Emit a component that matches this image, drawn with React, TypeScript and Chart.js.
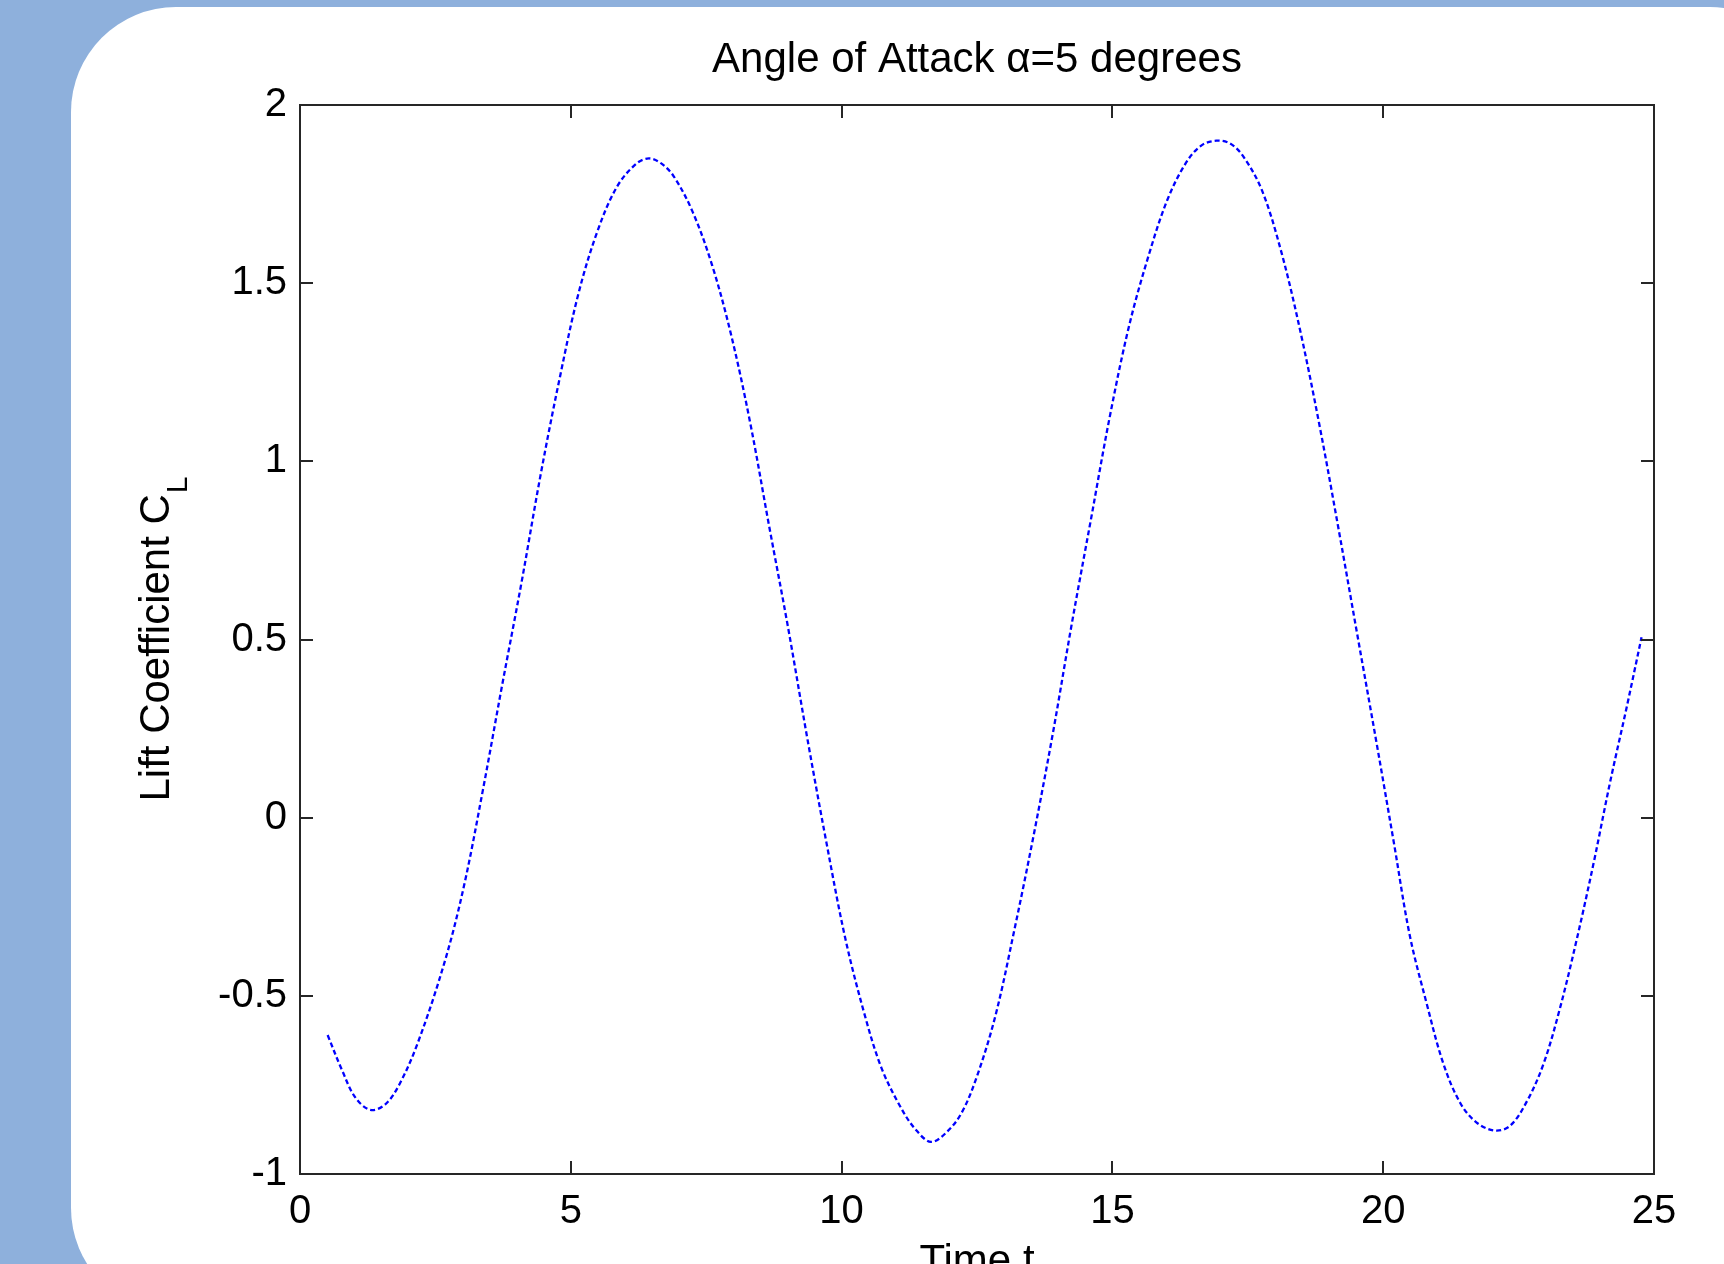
import { useEffect, useRef } from "react";
import { Chart, registerables } from "chart.js";

Chart.register(...registerables);

// Time t (x values)
const timeValues = [
  0.51, 0.78, 1.02, 1.3, 1.57, 1.83, 2.18, 2.68, 3.03, 3.38, 3.73, 4.09, 4.44, 4.79, 5.14, 5.49,
  5.85, 6.2, 6.44, 6.67, 6.9, 7.25, 7.61, 7.96, 8.31, 8.66, 9.01, 9.37, 9.72, 10.07, 10.42,
  10.73, 11.08, 11.36, 11.65, 11.93, 12.21, 12.49, 12.84, 13.19, 13.54, 13.9, 14.25, 14.6,
  14.95, 15.3, 15.65, 16.01, 16.36, 16.64, 16.92, 17.17, 17.41, 17.76, 18.12, 18.47, 18.82,
  19.17, 19.52, 19.87, 20.2, 20.49, 20.8, 21.11, 21.42, 21.72, 22.06, 22.34, 22.65, 22.96,
  23.26, 23.57, 23.88, 24.19, 24.5, 24.77,
];

// Lift coefficient C_L (y values)
const liftValues = [
  -0.61, -0.71, -0.785, -0.82, -0.805, -0.75, -0.63, -0.4, -0.19, 0.08, 0.37, 0.66, 0.96, 1.23,
  1.47, 1.645, 1.77, 1.834, 1.85, 1.836, 1.8, 1.7, 1.55, 1.355, 1.11, 0.82, 0.535, 0.22, -0.07,
  -0.34, -0.55, -0.7, -0.81, -0.874, -0.91, -0.884, -0.83, -0.73, -0.556, -0.315, -0.054, 0.236,
  0.544, 0.834, 1.124, 1.375, 1.568, 1.732, 1.838, 1.886, 1.9, 1.892, 1.857, 1.761, 1.587, 1.365,
  1.104, 0.815, 0.515, 0.216, -0.073, -0.33, -0.52, -0.69, -0.8, -0.855, -0.878, -0.865, -0.797,
  -0.691, -0.537, -0.344, -0.131, 0.1, 0.313, 0.506,
];

const xTickValues = [0, 5, 10, 15, 20, 25];
const yTickValues = [-1, -0.5, 0, 0.5, 1, 1.5, 2];

const titleText = "Angle of Attack α=5 degrees";
const yLabelMain = "Lift Coefficient C";
const yLabelSub = "L";
const xLabelText = "Time t";

const W = 1724;
const H = 1264;
const FONT = "'Liberation Sans', Arial, Helvetica, sans-serif";

const framePlugin = {
  id: "matlabFrame",
  afterDatasetsDraw(chart: any) {
    const { ctx, chartArea: a, scales } = chart;
    const xs = scales.x;
    const ys = scales.y;
    ctx.save();
    ctx.strokeStyle = "#262626";
    ctx.lineWidth = 2;
    ctx.strokeRect(a.left, a.top, a.right - a.left, a.bottom - a.top);
    const L = 13;
    ctx.beginPath();
    xs.ticks.forEach((t: any) => {
      const px = Math.round(xs.getPixelForValue(t.value));
      ctx.moveTo(px, a.bottom);
      ctx.lineTo(px, a.bottom - L);
      ctx.moveTo(px, a.top);
      ctx.lineTo(px, a.top + L);
    });
    ys.ticks.forEach((t: any) => {
      const py = Math.round(ys.getPixelForValue(t.value));
      ctx.moveTo(a.left, py);
      ctx.lineTo(a.left + L, py);
      ctx.moveTo(a.right, py);
      ctx.lineTo(a.right - L, py);
    });
    ctx.stroke();

    const cx = (a.left + a.right) / 2;
    ctx.fillStyle = "#000";
    ctx.font = `42px ${FONT}`;
    ctx.textAlign = "center";
    ctx.textBaseline = "alphabetic";
    ctx.fillText(titleText, cx, a.top - 33);
    ctx.fillText(xLabelText, cx, a.bottom + 100);

    // rotated y-axis label with subscript
    const cy = (a.top + a.bottom) / 2;
    ctx.translate(169, cy);
    ctx.rotate(-Math.PI / 2);
    ctx.textAlign = "left";
    ctx.font = `42px ${FONT}`;
    const w1 = ctx.measureText(yLabelMain).width;
    ctx.font = `30px ${FONT}`;
    const w2 = ctx.measureText(yLabelSub).width;
    const start = -(w1 + w2) / 2;
    ctx.font = `42px ${FONT}`;
    ctx.fillText(yLabelMain, start, 0);
    ctx.font = `30px ${FONT}`;
    ctx.fillText(yLabelSub, start + w1 + 1, 18);
    ctx.restore();
  },
};

export default function App() {
  const ref = useRef<HTMLCanvasElement>(null);

  useEffect(() => {
    if (!ref.current) return;
    const points = timeValues.map((t, i) => ({ x: t, y: liftValues[i] }));
    const chart = new Chart(ref.current, {
      type: "line",
      data: {
        datasets: [
          {
            data: points,
            borderColor: "#0000FF",
            borderWidth: 2.3,
            borderDash: [5, 3],
            pointRadius: 0,
            fill: false,
            tension: 0.35,
          },
        ],
      },
      options: {
        responsive: false,
        maintainAspectRatio: false,
        devicePixelRatio: 1,
        animation: false,
        layout: { padding: { top: 105, right: 70, left: 0, bottom: 0 } },
        plugins: {
          legend: { display: false },
          tooltip: { enabled: false },
          title: { display: false },
        },
        scales: {
          x: {
            type: "linear",
            min: 0,
            max: 25,
            afterBuildTicks: (scale: any) => {
              scale.ticks = xTickValues.map((v) => ({ value: v }));
            },
            afterFit: (scale: any) => {
              scale.height = 90;
            },
            grid: { display: false, drawTicks: false },
            border: { display: false },
            ticks: {
              padding: 14,
              color: "#000",
              font: { family: FONT, size: 40 },
              maxRotation: 0,
              autoSkip: false,
              callback: (v: any) => String(v),
            },
          },
          y: {
            type: "linear",
            min: -1,
            max: 2,
            afterBuildTicks: (scale: any) => {
              scale.ticks = yTickValues.map((v) => ({ value: v }));
            },
            afterFit: (scale: any) => {
              scale.width = 300;
            },
            grid: { display: false, drawTicks: false },
            border: { display: false },
            ticks: {
              padding: 13,
              color: "#000",
              font: { family: FONT, size: 40 },
              autoSkip: false,
              callback: (v: any) => String(v),
            },
          },
        },
      },
      plugins: [framePlugin],
    });
    return () => chart.destroy();
  }, []);

  return (
    <div
      style={{
        position: "absolute",
        left: 0,
        top: 0,
        width: W,
        height: H,
        overflow: "hidden",
        background: "#8EB0DC",
      }}
    >
      <div
        style={{
          position: "absolute",
          left: 71,
          top: 7,
          width: 1744,
          height: 1306,
          background: "#FFFFFF",
          borderRadius: 105,
        }}
      />
      <canvas
        ref={ref}
        width={W}
        height={H}
        style={{ position: "absolute", left: 0, top: 0, width: W, height: H }}
      />
    </div>
  );
}
